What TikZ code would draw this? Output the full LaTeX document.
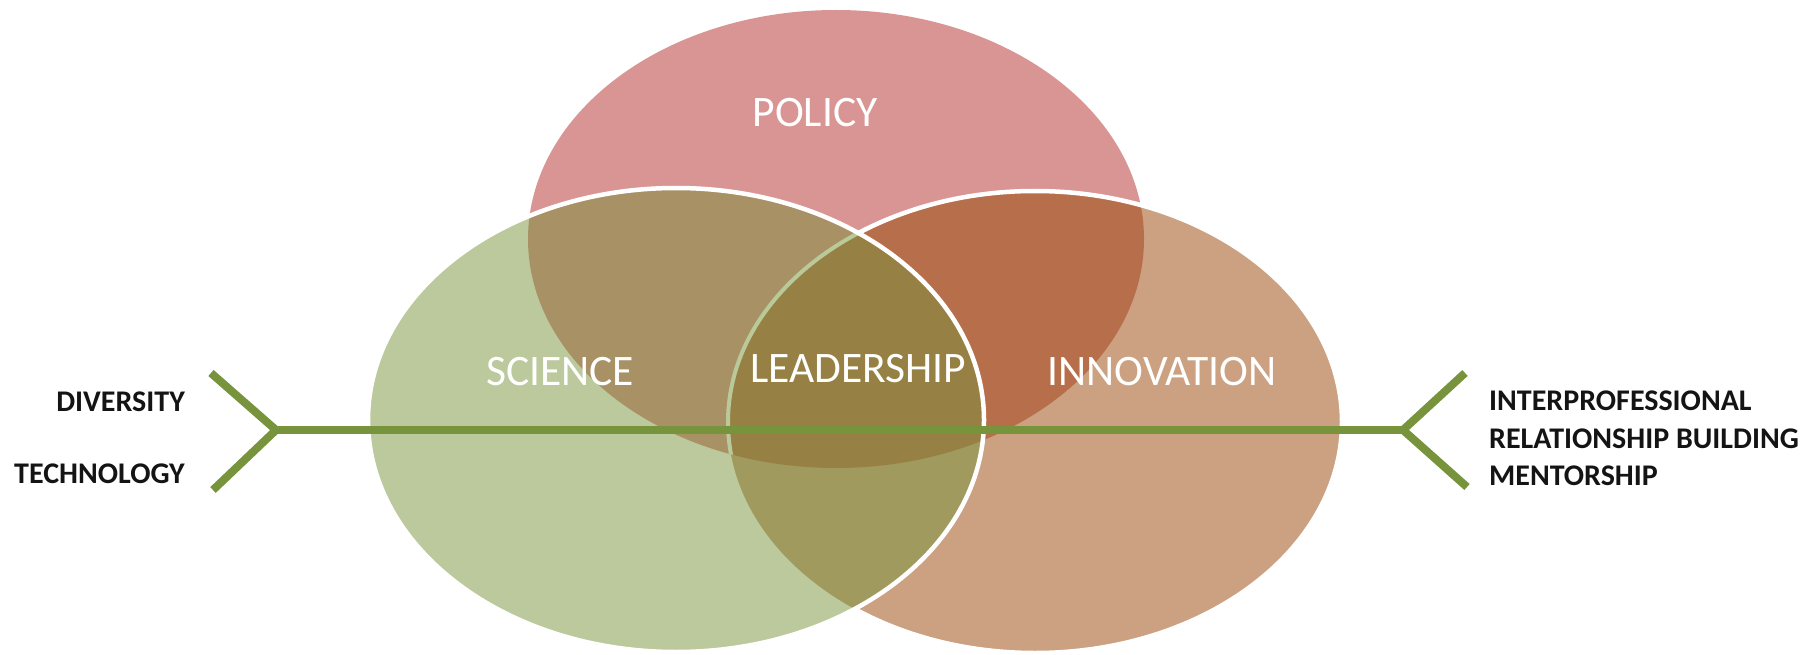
\documentclass[tikz,border=0pt]{standalone}
\usepackage{fontspec}
\setmainfont{Carlito}
\definecolor{pcol}{HTML}{D99594}
\definecolor{scol}{HTML}{BBC99D}
\definecolor{icol}{HTML}{CBA181}
\definecolor{picol}{HTML}{B76E4B}
\definecolor{pscol}{HTML}{A89165}
\definecolor{sicol}{HTML}{A19A5E}
\definecolor{psicol}{HTML}{968043}
\definecolor{edgegreen}{HTML}{B9C99A}
\definecolor{gline}{HTML}{77933C}
\definecolor{labcol}{HTML}{141414}
\tikzset{
  circtext/.style={text=white, inner sep=0pt, anchor=base, font=\fontsize{43.5}{50}\selectfont},
  sidetext/.style={text=labcol, inner sep=0pt, font=\bfseries\fontsize{30}{35}\selectfont},
  branch/.style={draw=gline, line width=8pt, line cap=butt, line join=round},
  outline/.style={draw=white, line width=4.5pt}
}
\newcommand{\policypath}{(836,239) ellipse [x radius=308, y radius=229]}
\newcommand{\sciencepath}{(676,420) ellipse [x radius=308, y radius=232]}
\newcommand{\innovpath}{(1035,422) ellipse [x radius=307, y radius=231]}
\begin{document}
\begin{tikzpicture}[x=1pt,y=-1pt]
\useasboundingbox (0,0) rectangle (1818,655);
% policy
\fill[pcol] \policypath;
% innovation
\fill[icol] \innovpath;
\begin{scope}
  \clip \policypath;
  \fill[picol] \innovpath;
\end{scope}
\path[outline] \innovpath;
% science
\fill[scol] \sciencepath;
\begin{scope}
  \clip \sciencepath;
  \fill[pscol] \policypath;
  \fill[sicol] \innovpath;
  \clip \innovpath;
  \fill[psicol] \policypath;
\end{scope}
\begin{scope}
  \clip \sciencepath;
  \clip \policypath;
  \draw[edgegreen, line width=4pt] \innovpath;
\end{scope}
\path[outline] \sciencepath;
% labels in circles
\node[circtext] (policy) at (815,127) {POLICY};
\node[circtext] (science) at (560,385) {SCIENCE};
\node[circtext] (leadership) at (858,382) {LEADERSHIP};
\node[circtext] (innovation) at (1162,385) {INNOVATION};
% green axis
\coordinate (ltip) at (276,430);
\coordinate (rtip) at (1403,430);
\coordinate (la) at (211,373);
\coordinate (lb) at (213,490);
\coordinate (ra) at (1465,373);
\coordinate (rb) at (1467,487);
\draw[branch] (la) -- (ltip) -- (lb);
\draw[branch] (ltip) -- (rtip);
\draw[branch] (ra) -- (rtip) -- (rb);
% side labels
\node[sidetext, anchor=base east] (diversity) at (185,411) {DIVERSITY};
\node[sidetext, anchor=base east] (technology) at (185,483) {TECHNOLOGY};
\node[sidetext, anchor=base west] (interprof) at (1489,410) {INTERPROFESSIONAL};
\node[sidetext, anchor=base west] (relbuild) at (1489,448) {RELATIONSHIP BUILDING};
\node[sidetext, anchor=base west] (mentor) at (1489,485) {MENTORSHIP};
\end{tikzpicture}
\end{document}
